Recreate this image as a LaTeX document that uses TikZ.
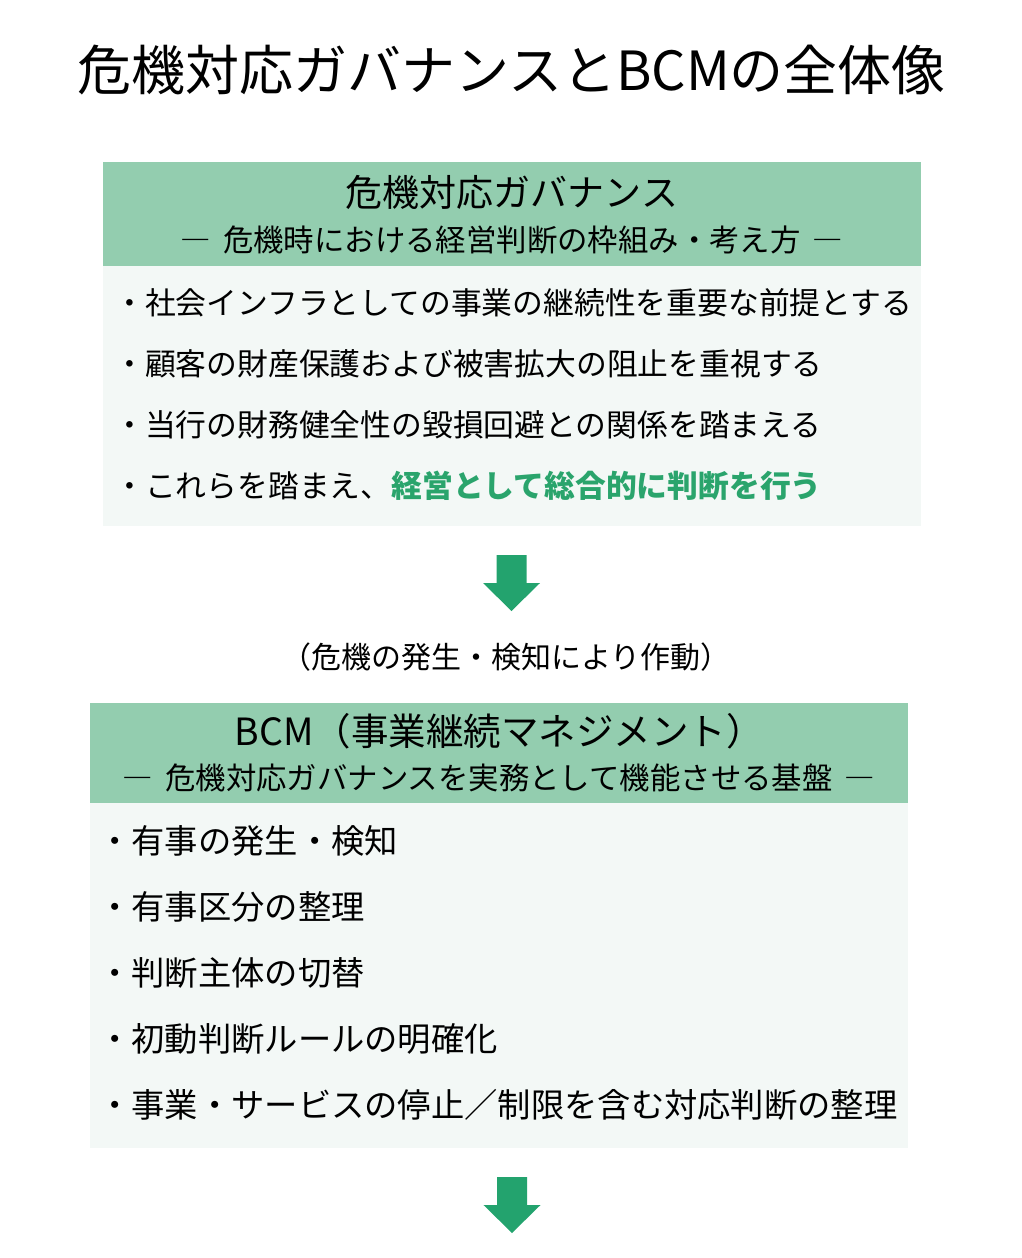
\documentclass[tikz,border=0pt]{standalone}
\usepackage{fontspec}
\setmainfont{Noto Sans CJK JP}
\definecolor{headgreen}{HTML}{93CDAF}
\definecolor{bodygreen}{HTML}{F3F8F6}
\definecolor{arrowgreen}{HTML}{23A36E}
\definecolor{textgreen}{HTML}{2AA46C}
\newcommand\bigdown[1]{\fill[arrowgreen] (#1) ++(-15,0) -- ++(30,0) -- ++(0,28) -- ++(13.5,0) -- ++(-28.5,28) -- ++(-28.5,-28) -- ++(13.5,0) -- cycle;}
\begin{document}
\begin{tikzpicture}[x=1pt,y=-1pt, line join=round,
	head/.style={anchor=base, inner sep=0pt, font=\fontsize{37}{44}\selectfont},
	sub/.style={anchor=base, inner sep=0pt, font=\fontsize{30.4}{36}\selectfont},
	item/.style={anchor=base west, inner sep=0pt, font=\fontsize{30.8}{36}\selectfont},
	bcmitem/.style={anchor=base west, inner sep=0pt, font=\fontsize{33.3}{40}\selectfont}]
	\useasboundingbox (0,0) rectangle (1022,1258);
	\node[anchor=base, inner sep=0pt, font=\fontsize{54}{64}\selectfont] (title) at (511.5,90) {危機対応ガバナンスとBCMの全体像};
	% ガバナンス
	\fill[headgreen] (103,162) rectangle (921,266);
	\fill[bodygreen] (103,266) rectangle (921,526);
	\node[head] (govhead) at (512,206) {危機対応ガバナンス};
	\node[sub] (govsub) at (512,251) {―\hspace{0.4em}危機時における経営判断の枠組み・考え方\hspace{0.4em}―};
	\foreach \t [count=\i] in {・社会インフラとしての事業の継続性を重要な前提とする,
		・顧客の財産保護および被害拡大の阻止を重視する,
		・当行の財務健全性の毀損回避との関係を踏まえる,
		{・これらを踏まえ、\textcolor{textgreen}{\bfseries 経営として総合的に判断を行う}}}
		\node[item] (gov\i) at (114,{314+61*(\i-1)}) {\t};
	\coordinate (arr1) at (511.5,555);
	\bigdown{arr1}
	\node[sub, font=\fontsize{30}{36}\selectfont] (trigger) at (506,668) {（危機の発生・検知により作動）};
	% BCM
	\fill[headgreen] (90,703) rectangle (908,803);
	\fill[bodygreen] (90,803) rectangle (908,1148);
	\node[head, font=\fontsize{37.5}{44}\selectfont] (bcmhead) at (499,745) {BCM（事業継続マネジメント）};
	\node[sub] (bcmsub) at (499,789) {―\hspace{0.4em}危機対応ガバナンスを実務として機能させる基盤\hspace{0.4em}―};
	\foreach \t [count=\i] in {・有事の発生・検知, ・有事区分の整理, ・判断主体の切替,
		・初動判断ルールの明確化, ・事業・サービスの停止／制限を含む対応判断の整理}
		\node[bcmitem] (bcm\i) at (98,{853.5+66*(\i-1)}) {\t};
	\coordinate (arr2) at (512,1177);
	\bigdown{arr2}
\end{tikzpicture}
\end{document}
